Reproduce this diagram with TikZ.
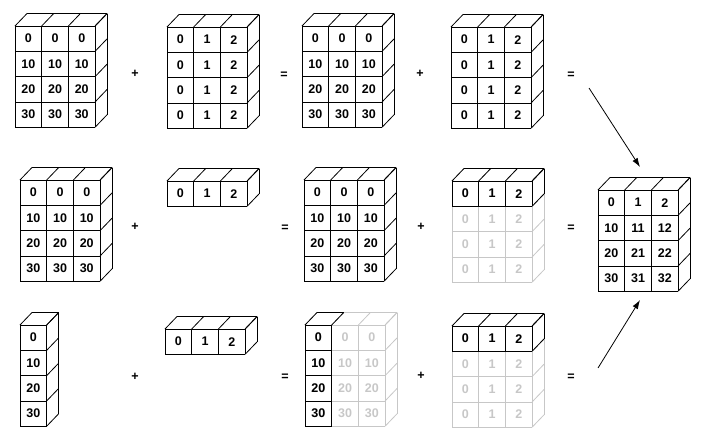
\documentclass[tikz,border=0pt]{standalone}
\usepackage{fontspec}
\setmainfont{Liberation Sans}
\usetikzlibrary{arrows.meta}
% Wuerfelmasse in Pixeln
\def\cellw{26.7}
\def\cellh{25.3}
\def\depx{12}
\def\depy{12.5}
\tikzset{
  cellnum/.style={font=\fontsize{12.5}{14}\selectfont\bfseries},
  faded/.style={color=black!22},
  op/.style={font=\fontsize{12.5}{14}\selectfont\bfseries, inner sep=1pt}
}
% Vorderseite mit Zahlen
\newcommand{\frontgrid}[6][]{%
  \foreach \r in {0,...,#4} {\draw[#1] (#2,#3+\r*\cellh) -- ++(#5*\cellw,0);}
  \foreach \c in {0,...,#5} {\draw[#1] (#2+\c*\cellw,#3) -- ++(0,#4*\cellh);}
  \foreach \r in {1,...,#4} {
    \foreach \c in {1,...,#5} {
      \pgfmathtruncatemacro\val{#6}
      \node[cellnum,#1] at (#2+\c*\cellw-\cellw/2,#3+\r*\cellh-\cellh/2) {\val};
    }
  }
}
% Oberseite
\newcommand{\topgrid}[4][]{%
  \foreach \c in {0,...,#4} {\draw[#1] (#2+\c*\cellw,#3) -- ++(\depx,-\depy);}
  \draw[#1] (#2+\depx,#3-\depy) -- ++(#4*\cellw,0);
}
% rechte Seite
\newcommand{\sidegrid}[5][]{%
  \foreach \r in {0,...,#4} {\draw[#1] (#2+#5*\cellw,#3+\r*\cellh) -- ++(\depx,-\depy);}
  \draw[#1] (#2+#5*\cellw+\depx,#3-\depy) -- ++(0,#4*\cellh);
}
% ganzer Block
\newcommand{\block}[6][]{%
  \sidegrid[#1]{#2}{#3}{#4}{#5}%
  \topgrid[#1]{#2}{#3}{#5}%
  \frontgrid[#1]{#2}{#3}{#4}{#5}{#6}%
}
\begin{document}
\begin{tikzpicture}[x=1pt, y=-1pt, >={Latex[length=9pt,width=6pt]}, line width=0.8pt]
\useasboundingbox (0,0) rectangle (703,447);
% erste Zeile: gleiche Formen
\block{15}{26}{4}{3}{10*(\r-1)}
\node[op] (plusA) at (135,74) {+};
\block{167}{27}{4}{3}{\c-1}
\node[op] (eqA) at (284,75) {=};
\block{302}{26}{4}{3}{10*(\r-1)}
\node[op] (plusB) at (420,74) {+};
\block{451}{27}{4}{3}{\c-1}
\node[op] (eqB) at (571,75) {=};
% zweite Zeile: Zeilenvektor wird gestreckt
\block{20}{180}{4}{3}{10*(\r-1)}
\node[op] (plusC) at (135,227) {+};
\block{167}{181}{1}{3}{\c-1}
\node[op] (eqC) at (285,228) {=};
\block{304}{180}{4}{3}{10*(\r-1)}
\node[op] (plusD) at (421,227) {+};
\block[faded]{452}{181}{4}{3}{\c-1}
\block{452}{181}{1}{3}{\c-1}
\node[op] (eqD) at (571,228) {=};
% dritte Zeile: beide werden gestreckt
\block{20}{325}{4}{1}{10*(\r-1)}
\node[op] (plusE) at (135,377) {+};
\block{165}{329}{1}{3}{\c-1}
\node[op] (eqE) at (285,377) {=};
\block[faded]{305}{325}{4}{3}{10*(\r-1)}
\topgrid{305}{325}{1}
\frontgrid{305}{325}{4}{1}{10*(\r-1)}
\node[op] (plusF) at (421,376) {+};
\block[faded]{452}{326}{4}{3}{\c-1}
\block{452}{326}{1}{3}{\c-1}
\node[op] (eqF) at (571,377) {=};
% Ergebnis
\block{598}{190}{4}{3}{10*(\r-1)+\c-1}
\coordinate (fromtop) at (589,88);
\coordinate (totop) at (640,167);
\coordinate (frombot) at (598,368);
\coordinate (tobot) at (640,300);
\draw[->] (fromtop) -- (totop);
\draw[->] (frombot) -- (tobot);
\end{tikzpicture}
\end{document}
